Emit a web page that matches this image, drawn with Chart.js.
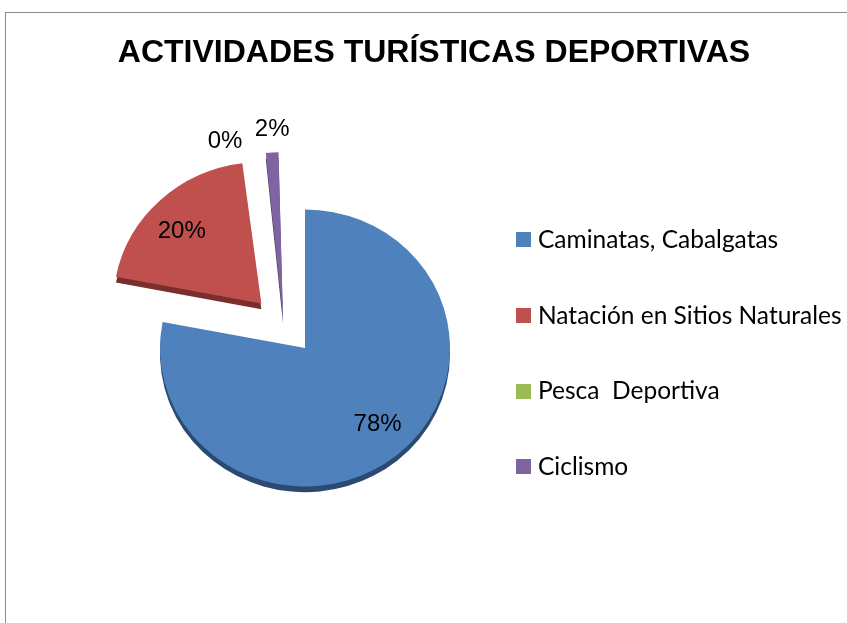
<!DOCTYPE html>
<html><head><meta charset="utf-8">
<script src="https://cdn.jsdelivr.net/npm/chart.js@4/dist/chart.umd.min.js"></script>
<style>
html,body{margin:0;padding:0;background:#fff;width:847px;height:623px;overflow:hidden}
#frame{position:absolute;left:5px;top:12px;width:900px;height:700px;border-left:1px solid #8a8a8a;border-top:1px solid #8a8a8a}
#c{position:absolute;left:0;top:0}
#title{position:absolute;left:0;width:868px;top:33px;text-align:center;font:bold 32px "Liberation Sans",Arial,sans-serif;color:#000;white-space:nowrap}
.item{position:absolute;left:516px;white-space:pre;font:24.5px Lato,"Open Sans",sans-serif;color:#000;line-height:28px;height:28px}
.item span.box{display:inline-block;width:15px;height:15px;vertical-align:middle;margin-right:7px;position:relative;top:-2px}
</style></head>
<body>
<div id="frame"></div>
<canvas id="c" width="847" height="623"></canvas>
<div id="title"></div>
<div id="legend"></div>
<script>
const chartTitle = 'ACTIVIDADES TURÍSTICAS DEPORTIVAS';
const categories = ['Caminatas, Cabalgatas', 'Natación en Sitios Naturales', 'Pesca  Deportiva', 'Ciclismo'];
const values = [78, 20, 0, 2];
const percentLabels = ['78%', '20%', '0%', '2%'];
const colors = ['#4F81BD', '#C0504D', '#9BBB59', '#8064A2'];
const darkColors = ['#2b4a72', '#7a2f2d', '#5d7235', '#4c3b61'];
const explode = [0, 255, 128, 128];
const perspectiveShiftX = [0, 0, -20, -20];
const labelNudge = [[6, 0], [-6, 3], [-32, 5], [1, -9]];

const K = 0.955, DEPTH = 6;

document.getElementById('title').textContent = chartTitle;
const leg = document.getElementById('legend');
categories.forEach((c, i) => {
  const d = document.createElement('div');
  d.className = 'item';
  d.style.top = (225 + i * 75.7) + 'px';
  const b = document.createElement('span');
  b.className = 'box'; b.style.background = colors[i];
  d.appendChild(b);
  d.appendChild(document.createTextNode(c));
  leg.appendChild(d);
});

const pieLook = {
  id: 'pieLook',
  afterDatasetsUpdate(chart) {
    const meta = chart.getDatasetMeta(0);
    meta.data.forEach((arc, i) => { arc.x += perspectiveShiftX[i]; });
  },
  beforeDatasetsDraw(chart) {
    const ctx = chart.ctx;
    const meta = chart.getDatasetMeta(0);
    const cy = meta.data[0].y;
    ctx.save();
    ctx.translate(0, cy); ctx.scale(1, K); ctx.translate(0, -cy);
    ctx.save();
    ctx.translate(0, DEPTH);
    meta.data.forEach((arc, i) => {
      const saved = arc.options;
      arc.options = Object.assign({}, saved, {backgroundColor: darkColors[i]});
      arc.draw(ctx);
      arc.options = saved;
    });
    ctx.restore();
  },
  afterDatasetsDraw(chart) {
    const ctx = chart.ctx;
    ctx.restore();
    const meta = chart.getDatasetMeta(0);
    ctx.save();
    ctx.fillStyle = '#000';
    ctx.font = '24px "Liberation Sans", Arial, sans-serif';
    ctx.textAlign = 'center';
    ctx.textBaseline = 'middle';
    meta.data.forEach((arc, i) => {
      const p = arc.getProps(['x', 'y', 'startAngle', 'endAngle', 'outerRadius', 'circumference'], true);
      const off = (arc.options.offset || 0) / 4;
      const fix = 1 - Math.sin(Math.min(Math.PI, p.circumference || 0));
      const t = off * (1 + fix);
      const mid = (p.startAngle + p.endAngle) / 2;
      const cx = p.x + Math.cos(mid) * t, cy0 = p.y + Math.sin(mid) * t;
      const f = values[i] >= 5 ? 0.72 : 1.1;
      const lx = cx + Math.cos(mid) * p.outerRadius * f;
      let ly = cy0 + Math.sin(mid) * p.outerRadius * f;
      ly = p.y + (ly - p.y) * K;
      ctx.fillText(percentLabels[i], lx + labelNudge[i][0], ly + labelNudge[i][1]);
    });
    ctx.restore();
  }
};

new Chart(document.getElementById('c'), {
  type: 'pie',
  data: {
    labels: categories,
    datasets: [{
      data: values,
      backgroundColor: colors,
      borderWidth: 0,
      offset: explode,
      hoverOffset: explode
    }]
  },
  options: {
    responsive: false,
    animation: false,
    events: [],
    radius: 145,
    layout: {padding: {left: 0, right: 237, top: 73, bottom: 0}},
    plugins: {legend: {display: false}, tooltip: {enabled: false}, title: {display: false}}
  },
  plugins: [pieLook]
});
</script>
</body></html>
